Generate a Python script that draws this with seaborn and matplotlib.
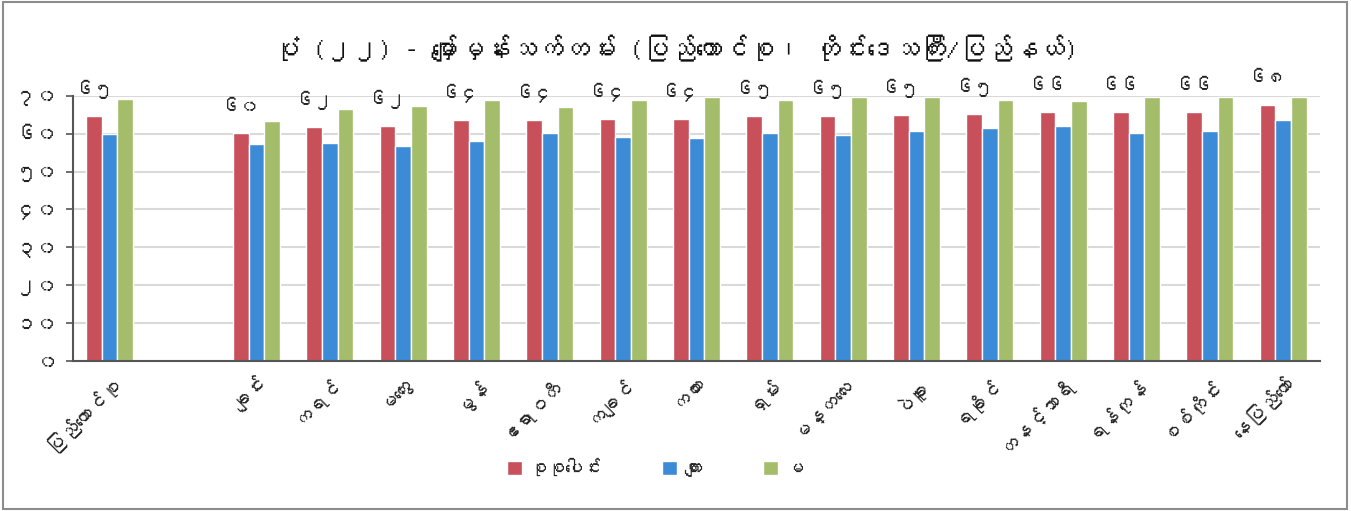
import matplotlib
matplotlib.use("Agg")
import matplotlib.pyplot as plt
import seaborn as sns
import pandas as pd
from matplotlib import font_manager
from matplotlib.patches import Rectangle
from fontTools.ttLib import TTFont

# find a font that can draw Myanmar script, if any is installed
mm_fonts = []
for f in font_manager.fontManager.ttflist:
    try:
        cmap = TTFont(f.fname, fontNumber=0, lazy=True).getBestCmap()
        if cmap and 0x1000 in cmap and 0x1040 in cmap and f.name not in mm_fonts:
            mm_fonts.append(f.name)
    except Exception:
        pass

# data
regions = ["ပြည်ထောင်စု", " ", "ချင်း", "ကရင်", "မကွေး", "မွန်", "ဧရာဝတီ", "ကချင်",
           "ကယား", "ရှမ်း", "မန္တလေး", "ပဲခူး", "ရခိုင်", "တနင်္သာရီ", "ရန်ကုန်",
           "စစ်ကိုင်း", "နေပြည်တော်"]
areas = ["ပြည်ထောင်စု", "ချင်း", "ကရင်", "မကွေး", "မွန်", "ဧရာဝတီ", "ကချင်",
         "ကယား", "ရှမ်း", "မန္တလေး", "ပဲခူး", "ရခိုင်", "တနင်္သာရီ", "ရန်ကုန်",
         "စစ်ကိုင်း", "နေပြည်တော်"]
total = [64.6, 60.2, 61.8, 62.1, 63.6, 63.6, 64.0, 64.0, 64.6, 64.6, 64.9, 65.3, 65.6, 65.6, 65.7, 67.6]
male = [59.9, 57.2, 57.6, 56.8, 58.0, 60.1, 59.2, 58.9, 60.3, 59.6, 60.6, 61.5, 62.1, 60.3, 60.8, 63.6]
female = [69.1, 63.3, 66.5, 67.3, 68.9, 67.1, 68.9, 69.7, 69.0, 69.7, 69.7, 68.9, 68.6, 69.7, 69.7, 69.7]
value_labels = ["၆၅", "၆၀", "၆၂", "၆၂", "၆၄", "၆၄", "၆၄", "၆၄", "၆၅", "၆၅", "၆၅", "၆၅",
                "၆၆", "၆၆", "၆၆", "၆၈"]
series = ["စုစုပေါင်း", "ကျား", "မ"]
yticks = [0, 10, 20, 30, 40, 50, 60, 70]
ytick_labels = ["၀", "၁၀", "၂၀", "၃၀", "၄၀", "၅၀", "၆၀", "၇၀"]
title = "ပုံ (၂၂) - မျှော်မှန်းသက်တမ်း (ပြည်ထောင်စု၊ တိုင်းဒေသကြီး/ပြည်နယ်)"
colors = ["#c8505a", "#3b8bd6", "#a3bd6a"]

df = pd.DataFrame({
    "area": areas * 3,
    "value": total + male + female,
    "series": [series[0]] * len(areas) + [series[1]] * len(areas) + [series[2]] * len(areas),
})

sns.set_style("white")
plt.rcParams["font.family"] = mm_fonts[:1] + ["DejaVu Sans"]

fig = plt.figure(figsize=(13.51, 5.11), dpi=100)
ax = fig.add_axes([0.054, 0.2935, 0.923, 0.519])

sns.barplot(data=df, x="area", y="value", hue="series", order=regions, hue_order=series,
            palette=colors, width=0.64, saturation=1, ax=ax, legend=True)

ax.set_ylim(0, 70)
ax.set_xlim(-0.5, len(regions) - 0.5)
ax.set_yticks(yticks)
ax.set_yticklabels(ytick_labels, fontsize=15, color="#222222")
ax.yaxis.grid(True, color="#d9d9d9", linewidth=1.5)
ax.set_axisbelow(True)
ax.set_xlabel("")
ax.set_ylabel("")

# category labels, ticks between categories like Excel
ax.set_xticks(range(len(regions)))
ax.set_xticklabels(regions, rotation=45, ha="right", rotation_mode="anchor", fontsize=14,
                   color="#222222")
ax.tick_params(axis="x", length=0, pad=8)
ax.set_xticks([i - 0.5 for i in range(len(regions) + 1)], minor=True)
ax.tick_params(axis="x", which="minor", length=5, color="#555555", width=1.2)
ax.tick_params(axis="y", length=5, color="#555555", width=1.2, pad=6, left=True)

for side in ["top", "right"]:
    ax.spines[side].set_visible(False)
for side in ["left", "bottom"]:
    ax.spines[side].set_color("#555555")
    ax.spines[side].set_linewidth(1.5)

# labels on the total bars
for bar, lab in zip(ax.containers[0], value_labels):
    ax.annotate(lab, (bar.get_x() + bar.get_width() / 2, bar.get_height()),
                xytext=(0, 19), textcoords="offset points", ha="center", va="center",
                fontsize=14, color="#222222", annotation_clip=False)

ax.legend(loc="center", bbox_to_anchor=(0.485, 0.085), bbox_transform=fig.transFigure,
          ncol=3, frameon=False, fontsize=13, columnspacing=3.4, handlelength=0.8,
          handleheight=0.8, handletextpad=0.4)

fig.text(0.5, 0.905, title, ha="center", va="center", fontsize=19, color="#111111")
fig.patches.append(Rectangle((0.002, 0.004), 0.995, 0.992, transform=fig.transFigure,
                             fill=False, edgecolor="#8c8c8c", linewidth=1.5))

fig.savefig("out.png", dpi=100)
